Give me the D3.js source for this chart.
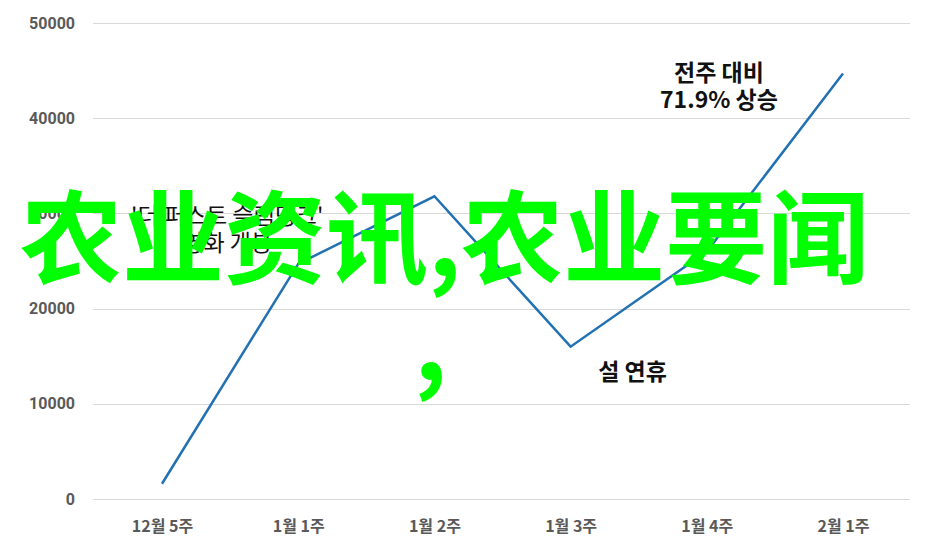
<!DOCTYPE html>
<html>
<head>
<meta charset="utf-8">
<script src="https://cdn.jsdelivr.net/npm/d3@7"></script>
<style>
  body { margin: 0; background: #fff; }
</style>
</head>
<body>
<div id="chart-container"></div>
<script>
// semaines (axe X)
const weeks = ["12월 5주", "1월 1주", "1월 2주", "1월 3주", "1월 4주", "2월 1주"];
// valeurs de la série
const values = [1600, 24700, 31800, 16000, 26000, 44700];
// graduations axe Y
const yTicks = [0, 10000, 20000, 30000, 40000, 50000];

// annotations : semaine, valeur (ligne de base), lignes de texte
const noteWeeks = ["1월 1주", "1월 3주", "2월 1주"];
const noteValues = [28900, 12500, 43900];
const noteLines = [
  ["'더 퍼스트 슬램덩크'", "영화 개봉"],
  ["설 연휴"],
  ["전주 대비", "71.9% 상승"],
];

// texte superposé (filigrane)
const overlayLines = ["农业资讯,农业要闻", ","];

const width = 937;
const height = 552;
const margin = { top: 23, right: 27, bottom: 53, left: 93 };

const svg = d3
  .select("#chart-container")
  .append("svg")
  .attr("width", width)
  .attr("height", height);

// Échelles
const xScale = d3
  .scalePoint()
  .domain(weeks)
  .range([162, 843]);

const yScale = d3
  .scaleLinear()
  .domain([0, 50000])
  .range([height - margin.bottom, margin.top]);

// grille horizontale
svg
  .append("g")
  .selectAll("line")
  .data(yTicks)
  .enter()
  .append("line")
  .attr("x1", margin.left)
  .attr("x2", width - margin.right)
  .attr("y1", (d) => Math.round(yScale(d)) + 0.5)
  .attr("y2", (d) => Math.round(yScale(d)) + 0.5)
  .attr("stroke", "#d9d9d9")
  .attr("stroke-width", 1);

// axe Y (labels seulement)
const yAxis = svg
  .append("g")
  .attr("transform", `translate(${margin.left - 18},0)`)
  .call(
    d3
      .axisLeft(yScale)
      .tickValues(yTicks)
      .tickFormat(d3.format("d"))
      .tickSize(0)
      .tickPadding(0)
  );
yAxis.select(".domain").remove();
yAxis
  .selectAll("text")
  .style("font-family", "Roboto, 'Liberation Sans', sans-serif")
  .style("font-weight", "bold")
  .style("font-size", "16px")
  .attr("fill", "#595959");

// axe X (labels seulement)
const xAxis = svg
  .append("g")
  .attr("transform", `translate(0,${height - margin.bottom})`)
  .call(d3.axisBottom(xScale).tickSize(0).tickPadding(22));
xAxis.select(".domain").remove();
xAxis
  .selectAll("text")
  .style("font-family", "'Noto Sans CJK KR', sans-serif")
  .style("font-weight", "bold")
  .style("font-size", "16px")
  .attr("fill", "#595959");

// la courbe
const lineGenerator = d3
  .line()
  .x((d, i) => xScale(weeks[i]))
  .y((d) => yScale(d));

svg
  .append("path")
  .datum(values)
  .attr("d", lineGenerator)
  .attr("fill", "none")
  .attr("stroke", "#2271b3")
  .attr("stroke-width", 2.5);

// annotations
const noteOffsets = [-71, 62, -124]; // décalage horizontal par rapport au point
const noteSizes = [23, 23, 23];
noteLines.forEach((lines, k) => {
  const cx = xScale(noteWeeks[k]) + noteOffsets[k];
  const cy = yScale(noteValues[k]);
  svg
    .append("g")
    .selectAll("text")
    .data(lines)
    .enter()
    .append("text")
    .attr("text-anchor", "middle")
    .attr("x", cx)
    .attr("y", (d, i) => cy + i * 27)
    .style("font-family", "'Noto Sans CJK KR', sans-serif")
    .style("font-weight", k === 0 ? "normal" : "bold")
    .style("font-size", noteSizes[k] + "px")
    .attr("fill", "#111")
    .text((d) => d);
});

// texte superposé vert
svg
  .selectAll("overlay")
  .data(overlayLines)
  .enter()
  .append("text")
  .attr("x", (d, i) => (i === 0 ? 20 : 414))
  .attr("y", (d, i) => 276 + i * 104)
  .style("font-family", "'Noto Sans CJK SC', sans-serif")
  .style("font-weight", "bold")
  .style("font-size", "102px")
  .attr("fill", "#00ff00")
  .text((d) => d);
</script>
</body>
</html>
